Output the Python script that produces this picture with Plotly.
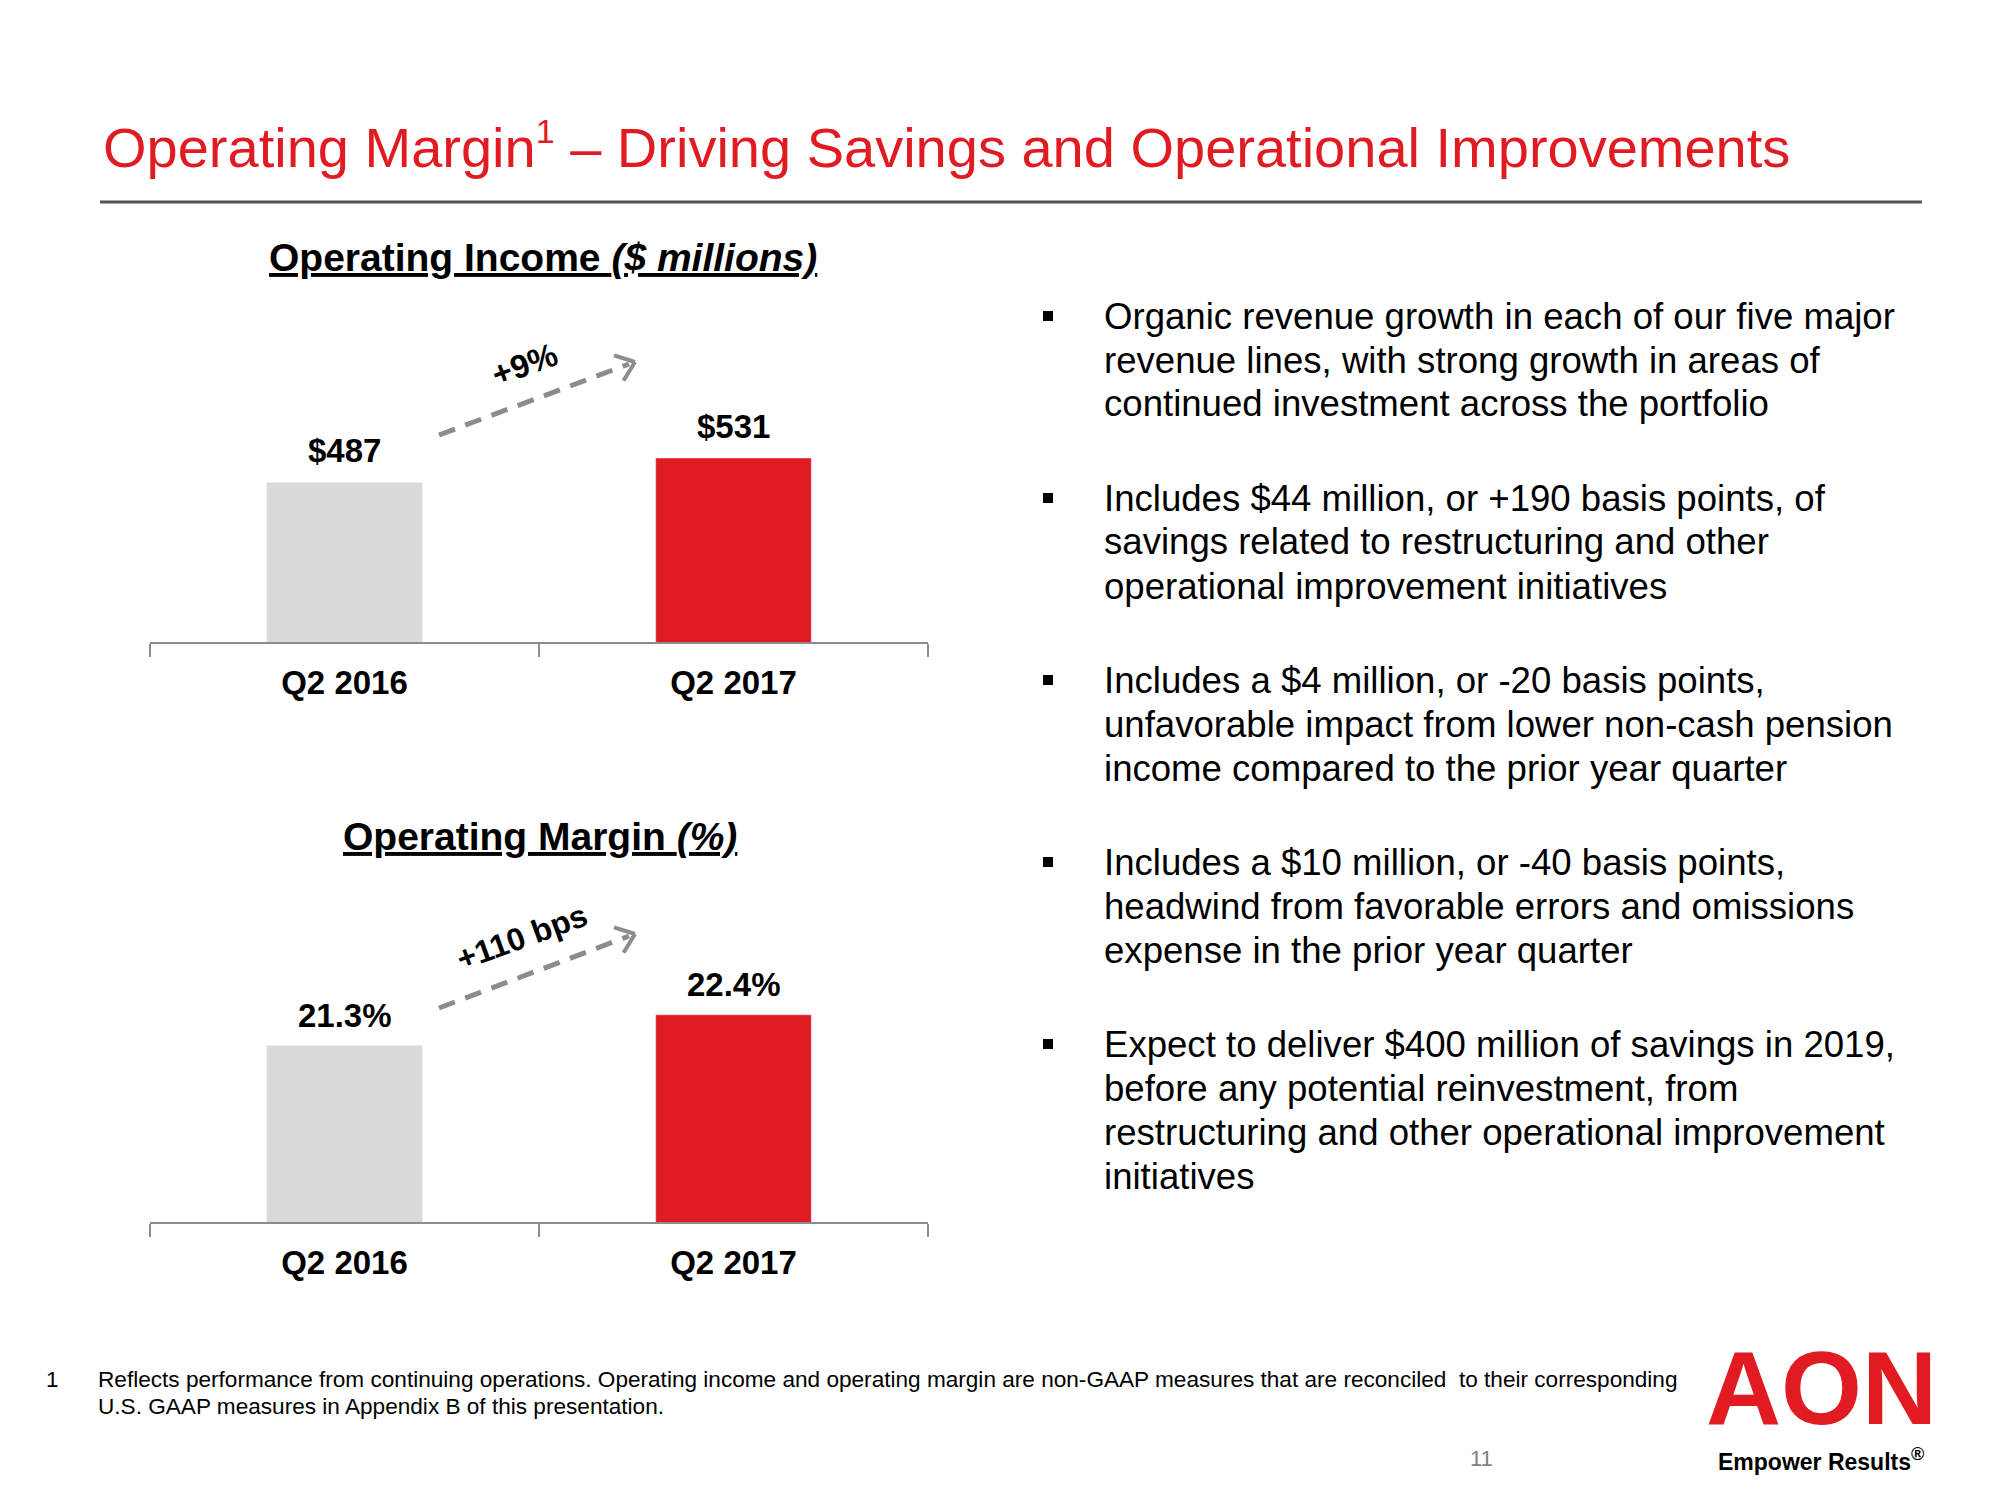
import math
import plotly.graph_objects as go

# ---------------- data ----------------
categories = ["Q2 2016", "Q2 2017"]
income_values = [487, 531]
margin_values = [21.3, 22.4]
bar_colors = ["#D9D9D9", "#E11B22"]
income_change = "+9%"
margin_change = "+110 bps"

title_text = ("Operating Margin<sup><span style='font-size:34px'>1</span></sup>"
              " – Driving Savings and Operational Improvements")
income_title = "<b><u>Operating Income <i>($ millions)</i></u></b>"
margin_title = "<b><u>Operating Margin <i>(%)</i></u></b>"

bullets = [
    ["Organic revenue growth in each of our five major",
     "revenue lines, with strong growth in areas of",
     "continued investment across the portfolio"],
    ["Includes $44 million, or +190 basis points, of",
     "savings related to restructuring and other",
     "operational improvement initiatives"],
    ["Includes a $4 million, or -20 basis points,",
     "unfavorable impact from lower non-cash pension",
     "income compared to the prior year quarter"],
    ["Includes a $10 million, or -40 basis points,",
     "headwind from favorable errors and omissions",
     "expense in the prior year quarter"],
    ["Expect to deliver $400 million of savings in 2019,",
     "before any potential reinvestment, from",
     "restructuring and other operational improvement",
     "initiatives"],
]
footnote_lines = [
    "Reflects performance from continuing operations. Operating income and operating margin are non-GAAP measures that are reconciled  to their corresponding",
    "U.S. GAAP measures in Appendix B of this presentation.",
]
page_number = "11"

# ---------------- layout helpers ----------------
W, H = 2000, 1500
FONT = "Liberation Sans, Arial, sans-serif"
RED = "#E11B22"
AXIS_GRAY = "#8C8C8C"


def px(x):
    return x / W


def py(y):
    return 1 - y / H


def note(x, y, text, size, color="#000000", xanchor="center", yanchor="middle",
         **kw):
    return dict(x=px(x), y=py(y), xref="paper", yref="paper", text=text,
                showarrow=False, xanchor=xanchor, yanchor=yanchor,
                font=dict(family=FONT, size=size, color=color), **kw)


fig = go.Figure()

fig.add_trace(go.Bar(x=categories, y=income_values, marker_color=bar_colors,
                     xaxis="x", yaxis="y", hoverinfo="skip", cliponaxis=False))
fig.add_trace(go.Bar(x=categories, y=margin_values, marker_color=bar_colors,
                     xaxis="x2", yaxis="y2", hoverinfo="skip", cliponaxis=False))

xaxis_common = dict(
    type="category", showline=True, linecolor=AXIS_GRAY, linewidth=2,
    ticks="outside", tickson="boundaries", ticklen=13, tickwidth=2,
    tickcolor=AXIS_GRAY, showgrid=False, zeroline=False, fixedrange=True,
    tickfont=dict(family=FONT, size=33, color="#000000", weight="bold"),
    ticklabelstandoff=10,
)

annotations = []

# value labels from data
for xa, ya, vals, fmt, shift in [("x", "y", income_values, "${:.0f}", 32),
                                 ("x2", "y2", margin_values, "{:.1f}%", 30)]:
    for c, v in zip(categories, vals):
        annotations.append(dict(
            x=c, y=v, xref=xa, yref=ya, text="<b>" + fmt.format(v) + "</b>",
            showarrow=False, xanchor="center", yanchor="middle", yshift=shift,
            font=dict(family=FONT, size=33, color="#000000")))

# title
annotations.append(note(101, 145, title_text, 56, RED, xanchor="left"))

# chart subtitles
annotations.append(note(543, 258, income_title, 39))
annotations.append(note(540, 836, margin_title, 39))

# change labels
annotations.append(note(524, 364, "<b>" + income_change + "</b>", 33,
                        textangle=-20))
annotations.append(note(522, 937, "<b>" + margin_change + "</b>", 32,
                        textangle=-20))

# bullets
shapes = []
bullet_first_y = [316, 498, 680, 862, 1044]
line_gap = 44
for lines, y0 in zip(bullets, bullet_first_y):
    shapes.append(dict(type="rect", xref="paper", yref="paper",
                       x0=px(1043), x1=px(1053), y0=py(y0 - 5), y1=py(y0 + 5),
                       fillcolor="#000000", line=dict(width=0)))
    for i, ln in enumerate(lines):
        annotations.append(note(1102, y0 + i * line_gap, ln, 36.6,
                                xanchor="left"))

# footnote
annotations.append(note(44, 1379, "1", 22.6, xanchor="left"))
for i, ln in enumerate(footnote_lines):
    annotations.append(note(96, 1379 + i * 27, ln, 22.6, xanchor="left"))

# page number
annotations.append(note(1481, 1458, page_number, 22, "#7F7F7F"))

# logo
annotations.append(note(1821, 1388, "<b>AON</b>", 104, RED))
annotations.append(note(1821, 1459,
                        "<b>Empower Results<sup><span style='font-size:18px'>®</span></sup></b>",
                        23))

# title rule
shapes.append(dict(type="line", xref="paper", yref="paper",
                   x0=px(100), x1=px(1922), y0=py(202), y1=py(202),
                   line=dict(color="#555555", width=3)))

# dashed growth arrows
for (sx, sy), (tx, ty) in [((439, 435), (635, 362)), ((439, 1008), (635, 934))]:
    shapes.append(dict(type="line", xref="paper", yref="paper",
                       x0=px(sx), y0=py(sy), x1=px(tx - 6), y1=py(ty + 2),
                       line=dict(color=AXIS_GRAY, width=5, dash="17px,11px")))
    ang = math.atan2(ty - sy, tx - sx)
    L = 22
    for d in (math.radians(38), -math.radians(38)):
        ax = tx - L * math.cos(ang + d)
        ay = ty - L * math.sin(ang + d)
        shapes.append(dict(type="line", xref="paper", yref="paper",
                           x0=px(ax), y0=py(ay), x1=px(tx), y1=py(ty),
                           line=dict(color=AXIS_GRAY, width=4)))

fig.update_layout(
    width=W, height=H, margin=dict(l=0, r=0, t=0, b=0),
    paper_bgcolor="#FFFFFF", plot_bgcolor="rgba(0,0,0,0)",
    showlegend=False, bargap=0.6,
    xaxis=dict(domain=[px(150), px(928)], anchor="y", **xaxis_common),
    yaxis=dict(domain=[py(642), py(308.5)], range=[200, 800], visible=False,
               fixedrange=True),
    xaxis2=dict(domain=[px(150), px(928)], anchor="y2", **xaxis_common),
    yaxis2=dict(domain=[py(1222), py(886)], range=[15, 27], visible=False,
                fixedrange=True),
    annotations=annotations, shapes=shapes,
)

fig.write_html("out.html", config={"displayModeBar": False},
               post_script="document.body.style.margin='0';"
                           "document.body.style.overflow='hidden';")
